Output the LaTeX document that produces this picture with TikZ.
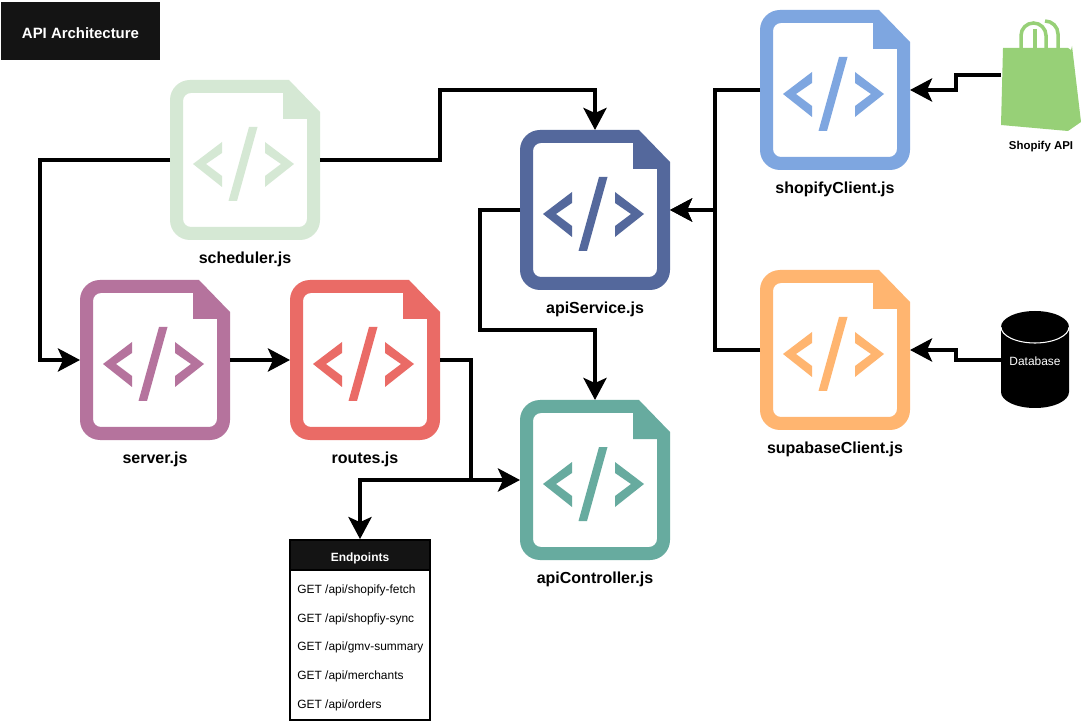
\documentclass[tikz,border=0pt]{standalone}
\usepackage{fontspec}
\setmainfont{Liberation Sans}
\usetikzlibrary{arrows.meta}
\definecolor{schedcol}{HTML}{D5E8D4}
\definecolor{svccol}{HTML}{54689C}
\definecolor{servercol}{HTML}{B5739D}
\definecolor{routecol}{HTML}{EA6B66}
\definecolor{ctrlcol}{HTML}{67AB9F}
\definecolor{shopcol}{HTML}{7EA6E0}
\definecolor{supacol}{HTML}{FFB570}
\definecolor{bagcol}{HTML}{97D077}
\definecolor{boxcol}{HTML}{141414}
\tikzset{
  filebox/.style={minimum width=3cm,minimum height=3.2cm,inner sep=0pt,outer sep=0pt},
  filename/.style={font=\bfseries\fontsize{9.1pt}{11pt}\selectfont,text=black,inner sep=0pt},
  flow/.style={draw=black,line width=2.45pt,-{Stealth[length=0.44cm,width=0.46cm,inset=0.1cm]}},
  endpointitem/.style={font=\fontsize{6.8pt}{8pt}\selectfont,anchor=west,inner sep=0pt},
}
% one source file icon, #2 and #3 are its top left corner
\newcommand{\fileicon}[5]{%
  \node[filebox] (#1) at (#2+75,-#3-80) {};
  \begin{scope}[shift={(#2,-#3)}]
    \fill[#4,even odd rule] (0,-20) arc (180:90:20) -- (119,0) -- (150,-32) -- (150,-140) arc (0:-90:20)
      -- (20,-160) arc (270:180:20) -- cycle
      (13,-21) -- (13,-139) arc (180:270:8) -- (129,-147) arc (270:360:8) -- (137,-39) -- (113,-39)
      -- (113,-13) -- (21,-13) arc (90:180:8) -- cycle;
    \fill[#4] (52,-62) -- (23,-84) -- (52,-107) -- (52,-96) -- (36,-84) -- (52,-73) -- cycle;
    \fill[#4] (79,-47) -- (87.5,-47) -- (67,-121) -- (58.5,-121) -- cycle;
    \fill[#4] (95,-62) -- (124,-84) -- (95,-107) -- (95,-96) -- (111,-84) -- (95,-73) -- cycle;
  \end{scope}
  \node[filename] (#1label) at (#2+75,-#3-179) {#5};
}
\begin{document}
\begin{tikzpicture}[x=0.02cm,y=0.02cm]
  \useasboundingbox (0,0) rectangle (1081,-722);
  \fill[white] (0,0) rectangle (1081,-722);

  \node[fill=boxcol,text=white,font=\bfseries\fontsize{8.5pt}{10pt}\selectfont,text height=8.4pt,text depth=0pt,minimum width=3.18cm,minimum height=1.16cm,inner sep=0pt] (title) at (80.5,-31) {API Architecture};

  \fileicon{scheduler}{170}{80}{schedcol}{scheduler.js}
  \fileicon{apiservice}{520}{130}{svccol}{apiService.js}
  \fileicon{server}{80}{280}{servercol}{server.js}
  \fileicon{routes}{290}{280}{routecol}{routes.js}
  \fileicon{apicontroller}{520}{400}{ctrlcol}{apiController.js}
  \fileicon{shopifyclient}{760}{10}{shopcol}{shopifyClient.js}
  \fileicon{supabaseclient}{760}{270}{supacol}{supabaseClient.js}

  % shopify bag
  \node[minimum width=1.6cm,minimum height=2.3cm,inner sep=0pt] (shopify) at (1041,-75) {};
  \draw[bagcol,line width=2pt] (1021,-50) -- (1021,-35.5) arc (180:0:12.5) -- (1046,-50);
  \draw[bagcol,line width=2pt] (1045,-21) arc (90:0:13) -- (1058,-50);
  \draw[bagcol,line width=2pt] (1035,-29) -- (1035,-50);
  \fill[bagcol] (1003,-48) -- (1068,-48) -- (1071,-50) -- (1072,-46) -- (1081,-122) -- (1068,-131) -- (1001,-125) -- cycle;
  \node[font=\bfseries\fontsize{6.5pt}{8pt}\selectfont,inner sep=0pt] (shopifylabel) at (1041,-147) {Shopify API};

  % database
  \fill[black] (1001,-327) arc (180:0:34 and 16) -- (1069,-392) arc (0:-180:34 and 16) -- cycle;
  \draw[white,line width=0.6pt] (1001,-327) arc (180:360:34 and 16);
  \node[minimum width=1.36cm,minimum height=1.92cm,inner sep=0pt,text=white,font=\fontsize{6.8pt}{8pt}\selectfont,text height=6pt,text depth=0pt] (database) at (1035,-360) {Database};

  % endpoints
  \node[draw=black,line width=1pt,fill=white,minimum width=2.8cm,minimum height=3.6cm,inner sep=0pt] (endpoints) at (360,-630) {};
  \node[fill=boxcol,draw=black,line width=1pt,text=white,font=\bfseries\fontsize{6.8pt}{8pt}\selectfont,text height=7pt,text depth=0pt,minimum width=2.8cm,minimum height=0.6cm,inner sep=0pt] (endpointshead) at (360,-555) {Endpoints};
  \node[endpointitem] (ep1) at (297,-590) {GET /api/shopify-fetch};
  \node[endpointitem] (ep2) at (297,-619) {GET /api/shopfiy-sync};
  \node[endpointitem] (ep3) at (297,-647) {GET /api/gmv-summary};
  \node[endpointitem] (ep4) at (297,-676) {GET /api/merchants};
  \node[endpointitem] (ep5) at (297,-705) {GET /api/orders};

  % connectors
  \coordinate (junction) at (471,-480);
  \draw[flow] (scheduler.east) -- (440,-160) -- (440,-90) -| (apiservice.north);
  \draw[flow] (scheduler.west) -- (40,-160) |- (server.west);
  \draw[flow] (server.east) -- (routes.west);
  \draw[flow] (routes.east) -| (junction) -- (apicontroller.west);
  \draw[flow] (junction) -- (360,-480) -- (endpointshead.north);
  \draw[flow] (apiservice.west) -- (480,-210) -- (480,-330) -| (apicontroller.north);
  \draw[flow] (shopifyclient.west) -- (715,-90) |- (apiservice.east);
  \draw[flow] (supabaseclient.west) -- (715,-350) |- (apiservice.east);
  \draw[flow] (shopify.west) -- (956,-75) |- (shopifyclient.east);
  \draw[flow] (database.west) -- (956,-360) |- (supabaseclient.east);
\end{tikzpicture}
\end{document}
